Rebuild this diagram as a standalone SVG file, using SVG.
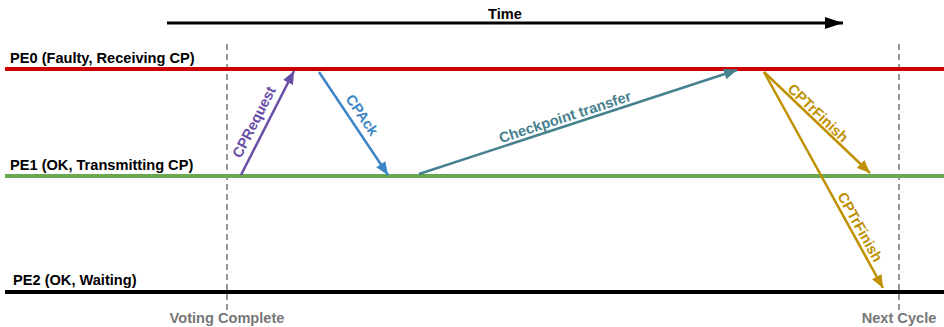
<svg xmlns="http://www.w3.org/2000/svg" width="944" height="327" viewBox="0 0 944 327">
  <style>
    .lbl { font-family: "Liberation Sans", Arial, sans-serif; font-weight: bold; font-size: 14.6px; }
    .lane-lbl { fill: #000; }
    .mark { fill: #777; text-anchor: middle; }
    .guide { stroke: #777; stroke-width: 1.5; stroke-dasharray: 6 4; fill: none; }
    .lane { stroke-width: 4; fill: none; }
    .msg { stroke-width: 2.5; fill: none; }
    .msg-lbl { text-anchor: middle; }
  </style>
  <defs>
    <marker id="headTime" markerUnits="userSpaceOnUse" markerWidth="18" markerHeight="12" refX="18" refY="6" orient="auto">
      <path d="M0,0 L18,6 L0,12 z" fill="#000"/>
    </marker>
    <marker id="headPurple" markerUnits="userSpaceOnUse" markerWidth="13" markerHeight="11" refX="13" refY="5.5" orient="auto">
      <path d="M0,0 L13,5.5 L0,11 z" fill="#674ea7"/>
    </marker>
    <marker id="headBlue" markerUnits="userSpaceOnUse" markerWidth="13" markerHeight="11" refX="13" refY="5.5" orient="auto">
      <path d="M0,0 L13,5.5 L0,11 z" fill="#3d85c6"/>
    </marker>
    <marker id="headTeal" markerUnits="userSpaceOnUse" markerWidth="13" markerHeight="11" refX="13" refY="5.5" orient="auto">
      <path d="M0,0 L13,5.5 L0,11 z" fill="#45818e"/>
    </marker>
    <marker id="headGold" markerUnits="userSpaceOnUse" markerWidth="13" markerHeight="11" refX="13" refY="5.5" orient="auto">
      <path d="M0,0 L13,5.5 L0,11 z" fill="#bf9000"/>
    </marker>
  </defs>

  <rect width="944" height="327" fill="#fff"/>

  <!-- time axis -->
  <g id="time-axis">
    <line x1="167" y1="23" x2="843" y2="23" stroke="#000" stroke-width="3" marker-end="url(#headTime)"/>
    <text class="lbl lane-lbl" x="505" y="19" text-anchor="middle">Time</text>
  </g>

  <!-- phase markers -->
  <g id="voting-complete">
    <line class="guide" x1="227" y1="44" x2="227" y2="310"/>
    <text class="lbl mark" x="227" y="323">Voting Complete</text>
  </g>
  <g id="next-cycle">
    <line class="guide" x1="899" y1="44" x2="899" y2="310"/>
    <text class="lbl mark" x="899" y="323">Next Cycle</text>
  </g>

  <!-- processing element lanes -->
  <g id="pe0">
    <line class="lane" x1="5" y1="69" x2="944" y2="69" stroke="#cc0000"/>
    <text class="lbl lane-lbl" x="10" y="62.5">PE0 (Faulty, Receiving CP)</text>
  </g>
  <g id="pe1">
    <line class="lane" x1="5" y1="176" x2="944" y2="176" stroke="#6aa84f"/>
    <text class="lbl lane-lbl" x="10" y="170">PE1 (OK, Transmitting CP)</text>
  </g>
  <g id="pe2">
    <line class="lane" x1="5" y1="292" x2="944" y2="292" stroke="#000"/>
    <text class="lbl lane-lbl" x="13" y="285">PE2 (OK, Waiting)</text>
  </g>

  <!-- messages -->
  <g id="connectors">
    <line class="msg" x1="241" y1="175" x2="294" y2="71" stroke="#674ea7" marker-end="url(#headPurple)"/>
    <line class="msg" x1="319" y1="72" x2="388" y2="175" stroke="#3d85c6" marker-end="url(#headBlue)"/>
    <line class="msg" x1="419" y1="174" x2="737" y2="70" stroke="#45818e" marker-end="url(#headTeal)"/>
    <line class="msg" x1="764" y1="72" x2="870" y2="173" stroke="#bf9000" marker-end="url(#headGold)"/>
    <line class="msg" x1="764" y1="72" x2="883" y2="288" stroke="#bf9000" marker-end="url(#headGold)"/>

    <text class="lbl msg-lbl" fill="#674ea7" transform="translate(254 122) rotate(-63)" y="5">CPRequest</text>
    <text class="lbl msg-lbl" fill="#3d85c6" transform="translate(362 115) rotate(56)" y="5">CPAck</text>
    <text class="lbl msg-lbl" fill="#45818e" transform="translate(565 117) rotate(-18.1)" y="5">Checkpoint transfer</text>
    <text class="lbl msg-lbl" fill="#bf9000" transform="translate(818 113) rotate(43.6)" y="5">CPTrFinish</text>
    <text class="lbl msg-lbl" fill="#bf9000" transform="translate(860 227) rotate(61.1)" y="5">CPTrFinish</text>
  </g>
</svg>
